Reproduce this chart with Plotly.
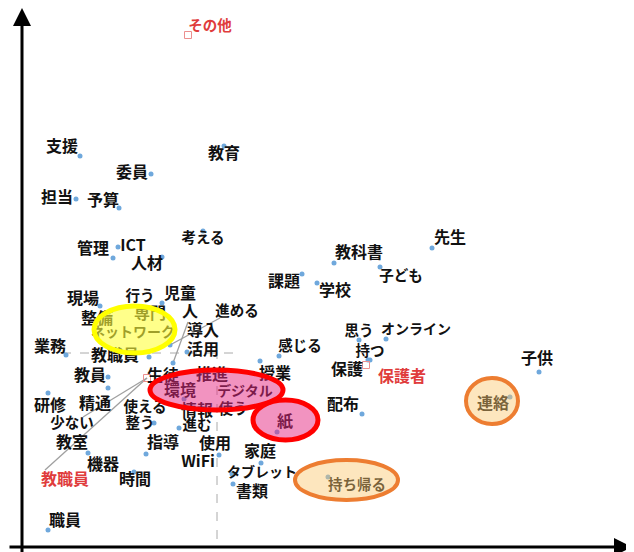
import plotly.graph_objects as go

# correspondence analysis: words (dot position + label position)
words = ["支援", "教育", "委員", "担当", "予算", "考える", "管理", "ICT", "人材", "課題",
         "先生", "教科書", "子ども", "学校", "現場", "行う", "児童", "整備", "専門", "人",
         "進める", "ネットワーク", "導入", "業務", "活用", "教職員", "教員", "精通", "生徒", "推進",
         "授業", "感じる", "環境", "デジタル", "研修", "使える", "情報", "使う", "紙", "少ない",
         "整う", "進む", "教室", "指導", "使用", "家庭", "機器", "WiFi", "タブレット", "時間",
         "書類", "職員", "思う", "オンライン", "持つ", "保護", "子供", "配布", "連絡", "持ち帰る"]
dot_x = [-1.37, 0.07, -0.66, -1.41, -0.98, -0.14, -1.04, -0.99, -0.55, 0.85,
         2.15, 1.17, 1.63, 1.00, -1.17, None, -0.55, None, None, -0.44,
         -0.47, None, None, -1.51, -0.30, -0.68, -1.09, -1.09, None, None,
         0.43, 0.62, -0.33, None, -1.69, None, None, None, 0.60, None,
         -0.63, -0.38, None, -0.71, 0.02, 0.44, -1.29, None, 0.15, -0.83,
         0.16, -1.69, 1.42, 1.69, 1.53, 1.51, 3.22, 1.45, 2.93, 1.11]
dot_y = [1.97, 2.07, 1.79, 1.54, 1.45, 1.22, 0.95, 1.06, 0.96, 0.79,
         1.05, 0.90, 0.86, 0.70, 0.47, None, 0.50, None, None, -0.10,
         0.08, None, None, -0.02, 0.01, -0.04, -0.24, -0.35, None, None,
         -0.08, -0.03, -0.46, None, -0.40, None, None, None, -0.79, None,
         -0.70, -0.75, None, -1.01, -1.02, -1.10, -1.00, None, -1.21, -1.19,
         -1.31, -1.77, 0.13, 0.14, -0.07, -0.07, -0.19, -0.61, -0.44, -1.24]
lab_x = [-1.55, 0.07, -0.85, -1.60, -1.14, -0.14, -1.24, -0.84, -0.70, 0.67,
         2.33, 1.42, 1.84, 1.18, -1.34, -0.77, -0.37, -1.20, -0.67, -0.27,
         0.20, -0.84, -0.14, -1.67, -0.14, -1.02, -1.27, -1.22, -0.54, -0.05,
         0.58, 0.83, -0.37, 0.28, -1.67, -0.72, -0.20, 0.16, 0.68, -1.45,
         -0.77, -0.20, -1.45, -0.54, -0.02, 0.43, -1.14, -0.19, 0.45, -0.82,
         0.35, -1.52, 1.42, 1.99, 1.53, 1.30, 3.20, 1.26, 2.76, 1.40]
lab_y = [2.05, 1.98, 1.79, 1.54, 1.51, 1.14, 1.03, 1.06, 0.88, 0.70,
         1.14, 0.99, 0.76, 0.61, 0.53, 0.56, 0.58, 0.33, 0.38, 0.40,
         0.41, 0.20, 0.21, 0.05, 0.02, -0.04, -0.24, -0.52, -0.24, -0.23,
         -0.22, 0.06, -0.39, -0.39, -0.54, -0.55, -0.59, -0.57, -0.70, -0.71,
         -0.71, -0.73, -0.91, -0.91, -0.92, -1.00, -1.13, -1.10, -1.20, -1.28,
         -1.40, -1.69, 0.21, 0.23, 0.01, -0.18, -0.07, -0.53, -0.52, -1.33]

# categories (attribute variable)
cats = ["その他", "保護者", "教職員"]
cat_x = [-0.29, 1.49, -0.70]
cat_y = [3.18, -0.12, -0.25]
cat_lab_x = [-0.07, 1.85, -1.52]
cat_lab_y = [3.26, -0.25, -1.28]

# leader lines (label edge -> point)
lead_x0 = [-1.72, -1.34, -0.29, 0.03]
lead_y0 = [-1.17, -0.64, 0.31, 0.35]
lead_x1 = [-0.70, -0.70, -0.44, -0.47]
lead_y1 = [-0.25, -0.25, -0.10, 0.08]

# highlighted groups: x0, x1, y0, y1
hl_x0 = [-1.23, -0.67, 0.36, 2.49, 0.78]
hl_x1 = [-0.42, 0.66, 1.01, 3.01, 1.81]
hl_y0 = [0.00, -0.57, -0.87, -0.71, -1.47]
hl_y1 = [0.47, -0.17, -0.47, -0.25, -1.07]
hl_line = ["#ffff00", "#ff0000", "#ff0000", "#ed7d31", "#ed7d31"]
hl_fill = ["rgba(255,255,60,0.6)", "rgba(230,40,130,0.5)", "rgba(230,40,130,0.5)",
           "rgba(250,200,110,0.45)", "rgba(250,200,110,0.45)"]

FONT = "Noto Sans CJK JP"


def label_size(s):
    # the original font sets kana proportionally, so kana words run narrower
    if any("\u30a0" <= ch <= "\u30ff" for ch in s):
        return 14
    if any("\u3040" <= ch <= "\u309f" for ch in s):
        return 14.5
    return 16


fig = go.Figure()

# origin guides
fig.add_trace(go.Scatter(x=[-1.55, 0.18], y=[0, 0], mode="lines",
                         line=dict(color="#aaaaaa", width=1, dash="dash"), hoverinfo="skip"))
fig.add_trace(go.Scatter(x=[0, 0], y=[0.03, -1.87], mode="lines",
                         line=dict(color="#aaaaaa", width=1, dash="dash"), hoverinfo="skip"))

for a, b, c, d in zip(lead_x0, lead_y0, lead_x1, lead_y1):
    fig.add_trace(go.Scatter(x=[a, c], y=[b, d], mode="lines",
                             line=dict(color="#a0a0a0", width=1.3), hoverinfo="skip"))

fig.add_trace(go.Scatter(x=dot_x, y=dot_y, mode="markers",
                         marker=dict(color="#6fa8dc", size=5)))
fig.add_trace(go.Scatter(x=cat_x, y=cat_y, mode="markers",
                         marker=dict(symbol="square-open", color="#ec8f8f", size=7, line=dict(width=1))))

fig.add_trace(go.Scatter(x=lab_x, y=lab_y, mode="text", text=words,
                         textfont=dict(family=FONT, size=[label_size(w) for w in words],
                                       color="#111111", weight="bold")))
fig.add_trace(go.Scatter(x=cat_lab_x, y=cat_lab_y, mode="text", text=cats,
                         textfont=dict(family=FONT, size=[label_size(c) for c in cats],
                                       color="#e03c3c", weight="bold")))

for i in range(len(hl_x0)):
    fig.add_shape(type="circle", xref="x", yref="y",
                  x0=hl_x0[i], x1=hl_x1[i], y0=hl_y0[i], y1=hl_y1[i],
                  line=dict(color=hl_line[i], width=5 if i < 3 else 4),
                  fillcolor=hl_fill[i], layer="above")

# axis arrows
fig.add_annotation(x=-1.95, y=3.45, ax=-1.95, ay=-2.07, xref="x", yref="y", axref="x", ayref="y",
                   showarrow=True, arrowhead=2, arrowsize=1.2, arrowwidth=3, arrowcolor="#000000", text="")
fig.add_annotation(x=4.15, y=-1.94, ax=-2.09, ay=-1.94, xref="x", yref="y", axref="x", ayref="y",
                   showarrow=True, arrowhead=2, arrowsize=1.2, arrowwidth=3, arrowcolor="#000000", text="")

fig.update_layout(
    width=634, height=552,
    margin=dict(l=0, r=0, t=0, b=0),
    paper_bgcolor="white", plot_bgcolor="white",
    showlegend=False,
    xaxis=dict(range=[-2.09, 4.25], visible=False, fixedrange=True),
    yaxis=dict(range=[-2.07, 3.45], visible=False, fixedrange=True),
)

fig.write_html("out.html")
